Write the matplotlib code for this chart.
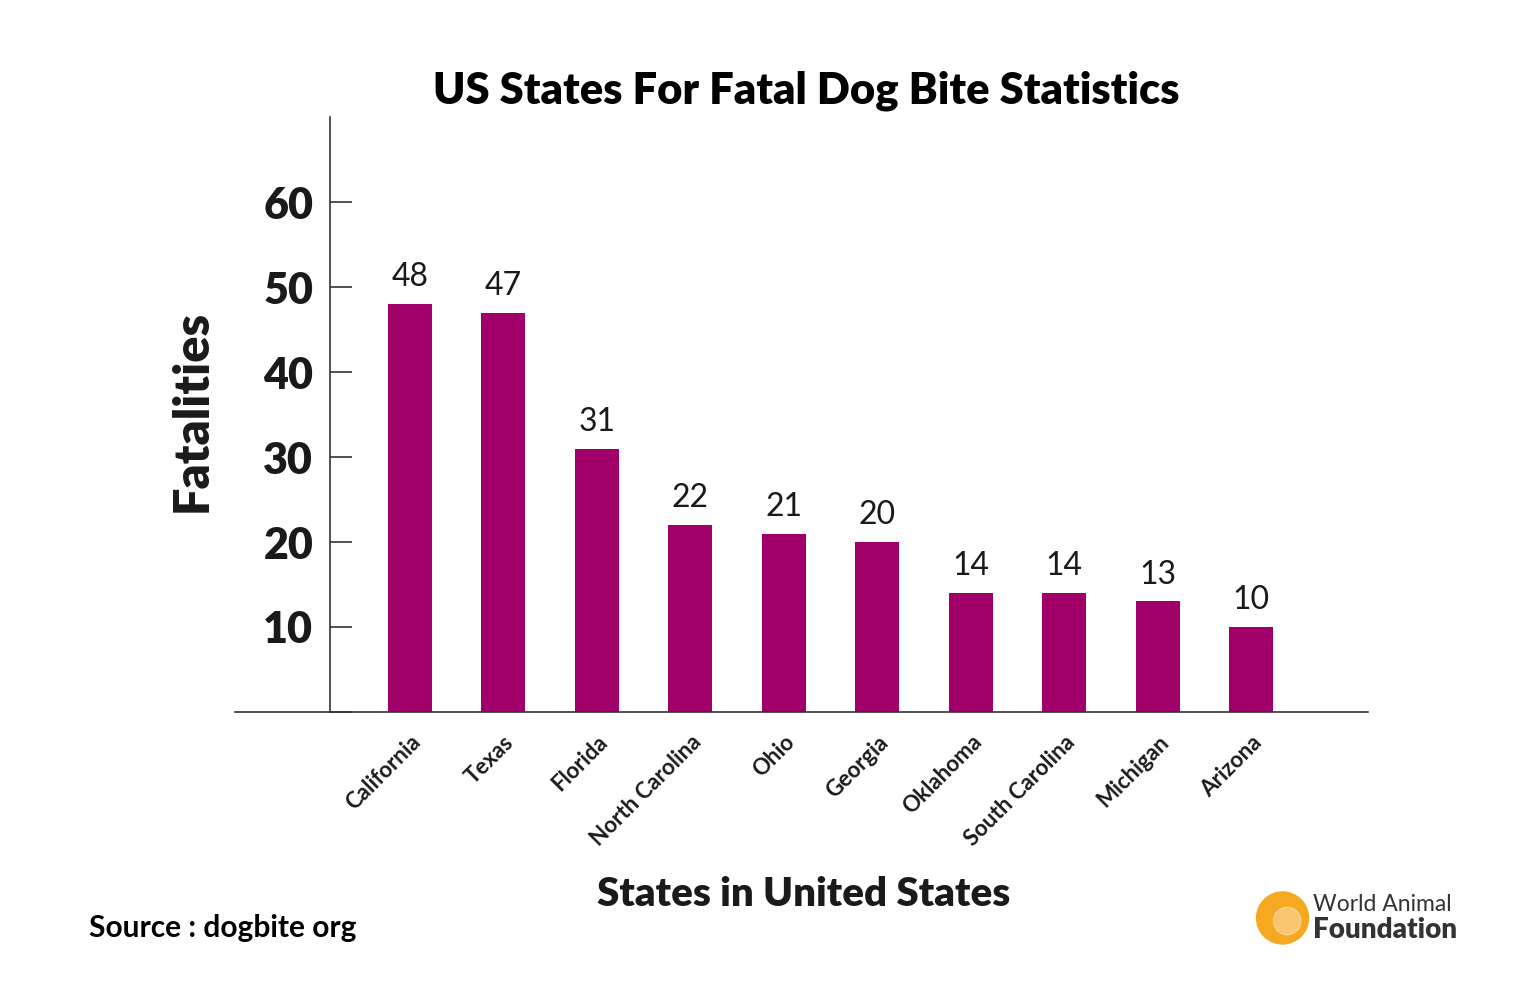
import matplotlib.pyplot as plt
from matplotlib.patches import Circle

states = ["California", "Texas", "Florida", "North Carolina", "Ohio",
          "Georgia", "Oklahoma", "South Carolina", "Michigan", "Arizona"]
fatalities = [48, 47, 31, 22, 21, 20, 14, 14, 13, 10]
yticks = [0, 10, 20, 30, 40, 50, 60]
ytick_labels = ["", "10", "20", "30", "40", "50", "60"]

bar_color = "#A1006B"
ink = "#1a1a1a"
font = "Lato"

fig = plt.figure(figsize=(15.36, 9.86), dpi=100)
ax = fig.add_axes([0.153, 0.2779, 0.7376, 0.6034])

x = list(range(len(states)))
ax.bar(x, fatalities, width=0.47, color=bar_color)
for xi, v in zip(x, fatalities):
    ax.text(xi, v + 1.4, str(v), ha="center", va="bottom",
            fontsize=23, family=font, color=ink)

ax.set_xlim(-1.87, 10.25)
ax.set_ylim(0, 70)

for s in ["top", "right"]:
    ax.spines[s].set_visible(False)
ax.spines["left"].set_position(("data", -0.855))
ax.spines["left"].set_bounds(0, 70)
for s in ["left", "bottom"]:
    ax.spines[s].set_color("#333333")
    ax.spines[s].set_linewidth(1.2)

ax.set_yticks(yticks)
ax.set_yticklabels(ytick_labels, fontsize=31, fontweight="heavy",
                   family=font, color=ink)
ax.tick_params(axis="y", direction="in", length=16, width=1.2,
               color="#333333", pad=12)

ax.set_xticks(x)
ax.set_xticklabels(states, rotation=45, ha="right", va="top",
                   rotation_mode="anchor", fontsize=16, fontweight="bold",
                   family=font, color=ink)
ax.tick_params(axis="x", length=0, pad=14)

fig.text(0.525, 0.908, "US States For Fatal Dog Bite Statistics",
         ha="center", va="center", fontsize=31.3, fontweight="heavy",
         family=font, color="black")
fig.text(0.125, 0.583, "Fatalities", rotation=90, ha="center", va="center",
         fontsize=35, fontweight="heavy", family=font, color=ink)
fig.text(0.523, 0.093, "States in United States", ha="center", va="center",
         fontsize=29, fontweight="heavy", family=font, color=ink)
fig.text(0.058, 0.059, "Source : dogbite org", ha="left", va="center",
         fontsize=21.5, fontweight="bold", family=font, color="black")

# logo
logo = fig.add_axes([0.815, 0.038, 0.04, 0.062])
logo.set_xlim(-1, 1)
logo.set_ylim(-1, 1)
logo.set_aspect("equal")
logo.axis("off")
logo.add_patch(Circle((0, 0), 0.85, color="#F6A821"))
logo.add_patch(Circle((0.15, -0.1), 0.45, color="white", alpha=0.35))
fig.text(0.855, 0.083, "World Animal", ha="left", va="center",
         fontsize=16.5, family=font, color="#333333")
fig.text(0.855, 0.057, "Foundation", ha="left", va="center",
         fontsize=20, fontweight="heavy", family=font, color="#333333")

fig.savefig("out.png", dpi=100, facecolor="white")
